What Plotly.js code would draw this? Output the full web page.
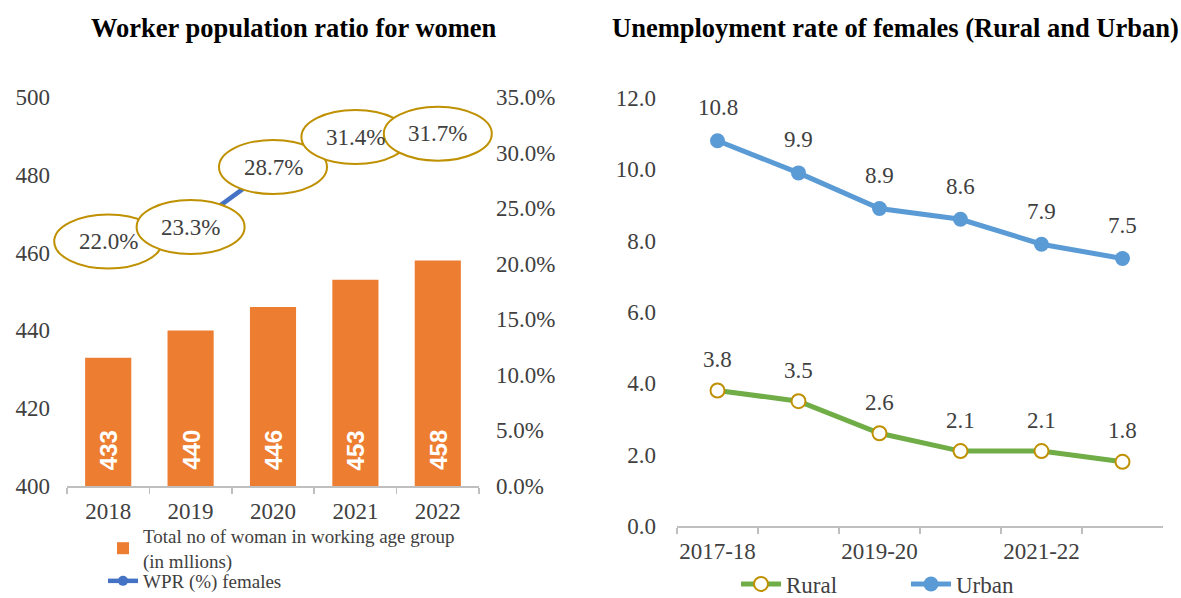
<!DOCTYPE html>
<html>
<head>
<meta charset="utf-8">
<script src="https://cdn.plot.ly/plotly-3.0.1.min.js"></script>
<style>html,body{margin:0;padding:0;background:#fff;width:1181px;height:598px;overflow:hidden}#chart{width:1181px;height:598px;overflow:hidden}</style>
</head>
<body>
<div id="chart"></div>
<script>
// ---- data ----
const years = ['2018', '2019', '2020', '2021', '2022'];
const womenMillions = [433, 440, 446, 453, 458];
const wprPct = [22.0, 23.3, 28.7, 31.4, 31.7];

const periods = ['2017-18', '2018-19', '2019-20', '2020-21', '2021-22', '2022-23'];
const rural = [3.8, 3.5, 2.6, 2.1, 2.1, 1.8];
const urban = [10.8, 9.9, 8.9, 8.6, 7.9, 7.5];

const leftTitle = 'Worker population ratio for women';
const rightTitle = 'Unemployment rate of females (Rural and Urban)';
const barName = 'Total no of woman in working age group<br>(in mllions)';
const lineName = 'WPR (%) females';

// ---- style ----
const SERIF = 'Liberation Serif';
const TXT = '#404040';
const AXIS = '#BFBFBF';
const W = 1181, H = 598;
const leftDomX = [67 / W, 479 / W];
const leftDomY = [(H - 486) / H, (H - 97) / H];
const rightDomX = [677 / W, 1163 / W];
const rightDomY = [(H - 526) / H, (H - 98) / H];
const leftRange = [400, 500];
const pctRange = [0, 35];
const unempRange = [0, 12];
const FS = 23;

const traces = [
  {type: 'bar', x: years, y: womenMillions, xaxis: 'x', yaxis: 'y', name: barName,
   marker: {color: '#ED7D31'}, legend: 'legend', hoverinfo: 'skip'},
  {type: 'scatter', mode: 'lines+markers', x: years, y: wprPct, xaxis: 'x', yaxis: 'y2', name: lineName,
   line: {color: '#4472C4', width: 4.5}, marker: {color: '#4472C4', size: 10}, legend: 'legend3'},
  {type: 'scatter', mode: 'lines+markers', x: periods, y: rural, xaxis: 'x2', yaxis: 'y3', name: 'Rural',
   line: {color: '#70AD47', width: 5}, marker: {color: '#FFFFFF', size: 14, line: {color: '#BF9000', width: 2}}, legend: 'legend2'},
  {type: 'scatter', mode: 'lines+markers', x: periods, y: urban, xaxis: 'x2', yaxis: 'y3', name: 'Urban',
   line: {color: '#5B9BD5', width: 5}, marker: {color: '#5B9BD5', size: 15}, legend: 'legend2'}
];

const annotations = [];
const shapes = [];

// titles
annotations.push({text: '<b>' + leftTitle + '</b>', xref: 'paper', yref: 'paper', x: 293.5 / W, y: (H - 28) / H,
  showarrow: false, font: {family: SERIF, size: 26.5, color: '#000'}, xanchor: 'center', yanchor: 'middle'});
annotations.push({text: '<b>' + rightTitle + '</b>', xref: 'paper', yref: 'paper', x: 895 / W, y: (H - 28) / H,
  showarrow: false, font: {family: SERIF, size: 26.5, color: '#000'}, xanchor: 'center', yanchor: 'middle'});

// bar value labels (rotated, white)
years.forEach((yr, i) => {
  annotations.push({text: '<b>' + womenMillions[i] + '</b>', xref: 'x', yref: 'y', x: i, y: leftRange[0],
    yanchor: 'bottom', xanchor: 'center', yshift: 14, textangle: -90, showarrow: false,
    font: {family: 'Liberation Sans', size: 24, color: '#FFFFFF'}});
});

// WPR labels in ellipses
years.forEach((yr, i) => {
  const fx = (i + 0.5) / years.length;
  const fy = (wprPct[i] - pctRange[0]) / (pctRange[1] - pctRange[0]);
  shapes.push({type: 'circle', xref: 'x domain', yref: 'y2 domain', xsizemode: 'pixel', ysizemode: 'pixel',
    xanchor: fx, yanchor: fy, x0: -54, x1: 54, y0: -27, y1: 27,
    line: {color: '#BF9000', width: 2}, fillcolor: '#FFFFFF', layer: 'above'});
});
years.forEach((yr, i) => {
  annotations.push({text: wprPct[i].toFixed(1) + '%', xref: 'x', yref: 'y2', x: i, y: wprPct[i],
    showarrow: false, font: {family: SERIF, size: FS, color: TXT}});
});

// unemployment labels
periods.forEach((p, i) => {
  annotations.push({text: urban[i].toFixed(1), xref: 'x2', yref: 'y3', x: i, y: urban[i], yshift: 33,
    showarrow: false, font: {family: SERIF, size: FS, color: TXT}});
  annotations.push({text: rural[i].toFixed(1), xref: 'x2', yref: 'y3', x: i, y: rural[i], yshift: 31,
    showarrow: false, font: {family: SERIF, size: FS, color: TXT}});
});

const tickFont = {family: SERIF, size: FS, color: TXT};

const layout = {
  width: W, height: H,
  margin: {l: 0, r: 0, t: 0, b: 0, autoexpand: false},
  paper_bgcolor: '#FFFFFF', plot_bgcolor: 'rgba(0,0,0,0)',
  showlegend: true,
  bargap: 0.44,
  xaxis: {domain: leftDomX, anchor: 'y', type: 'category', range: [-0.5, years.length - 0.5], autorange: false,
    showgrid: false, zeroline: false,
    showline: true, linecolor: AXIS, linewidth: 1.5, ticks: 'outside', tickson: 'boundaries', ticklen: 6,
    tickcolor: AXIS, tickwidth: 1.5, tickfont: tickFont, ticklabelstandoff: 4, tickangle: 0, automargin: false, fixedrange: true},
  yaxis: {domain: leftDomY, anchor: 'x', range: leftRange, autorange: false, dtick: 20, showgrid: false, zeroline: false,
    showline: false, ticks: '', tickfont: tickFont, ticklabelstandoff: 16, automargin: false, fixedrange: true},
  yaxis2: {overlaying: 'y', side: 'right', anchor: 'x', range: pctRange, autorange: false, dtick: 5, tickformat: '.1f', ticksuffix: '%',
    showgrid: false, zeroline: false, showline: false, ticks: '', tickfont: tickFont, ticklabelstandoff: 16,
    automargin: false, fixedrange: true},
  xaxis2: {domain: rightDomX, anchor: 'y3', type: 'category', range: [-0.5, periods.length - 0.5], autorange: false,
    showgrid: false, zeroline: false,
    showline: true, linecolor: AXIS, linewidth: 1.5, ticks: 'outside', tickson: 'boundaries', ticklen: 6,
    tickcolor: AXIS, tickwidth: 1.5, tickfont: tickFont, ticklabelstandoff: 4, tickangle: 0,
    tickmode: 'array', tickvals: periods, ticktext: periods.map((p, i) => (i % 2 === 0 ? p : '')),
    automargin: false, fixedrange: true},
  yaxis3: {domain: rightDomY, anchor: 'x2', range: unempRange, autorange: false, dtick: 2, tickformat: '.1f', showgrid: false,
    zeroline: false, showline: false, ticks: '', tickfont: tickFont, ticklabelstandoff: 20, automargin: false,
    fixedrange: true},
  legend: {x: 103 / W, y: (H - 517) / H, xanchor: 'left', yanchor: 'top', orientation: 'v', bgcolor: 'rgba(0,0,0,0)',
    font: {family: SERIF, size: 19, color: TXT}, tracegroupgap: 0, itemwidth: 30, traceorder: 'normal'},
  legend3: {x: 103 / W, y: (H - 581) / H, xanchor: 'left', yanchor: 'middle', orientation: 'v', bgcolor: 'rgba(0,0,0,0)',
    font: {family: SERIF, size: 19, color: TXT}, itemwidth: 30},
  legend2: {x: 736 / W, y: (H - 584) / H, xanchor: 'left', yanchor: 'middle', orientation: 'h', bgcolor: 'rgba(0,0,0,0)',
    font: {family: SERIF, size: FS, color: TXT}, itemwidth: 40, entrywidth: 115},
  annotations: annotations,
  shapes: shapes
};

Plotly.newPlot('chart', traces, layout, {displayModeBar: false, staticPlot: true});
</script>
</body>
</html>
